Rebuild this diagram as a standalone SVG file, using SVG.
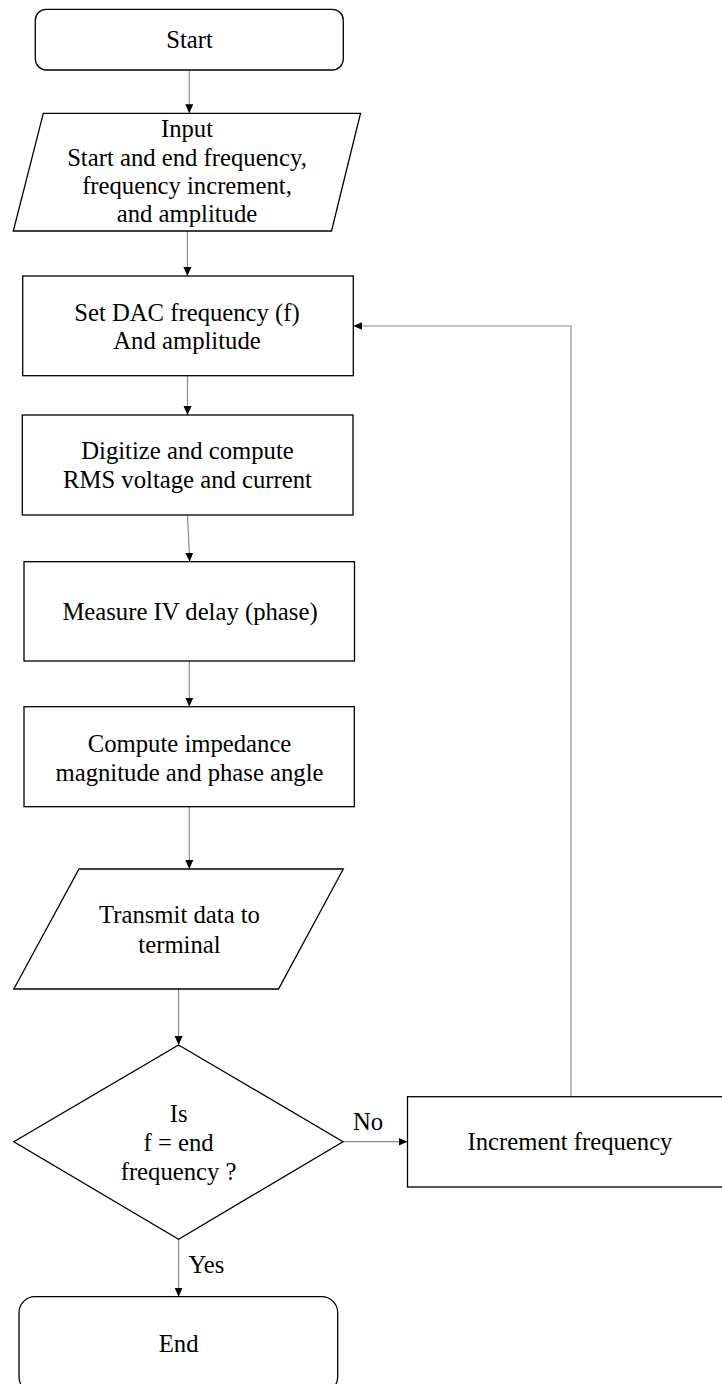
<svg xmlns="http://www.w3.org/2000/svg" width="722" height="1384" viewBox="0 0 722 1384">
  <defs>
    <marker id="arrow" markerUnits="userSpaceOnUse" markerWidth="10" markerHeight="10" viewBox="0 0 10 10" refX="9" refY="5" orient="auto">
      <path d="M0,1 L9,5 L0,9 Z" fill="#000"/>
    </marker>
    <style>
      .node { fill: #fff; stroke: #000; stroke-width: 1.3; }
      .edge { fill: none; stroke: #8a8a8a; stroke-width: 1.2; marker-end: url(#arrow); }
      .t { font-family: "Liberation Serif", "Times New Roman", serif; font-size: 24.7px; fill: #000; text-anchor: middle; }
    </style>
  </defs>
  <rect width="722" height="1384" fill="#fff"/>

  <g id="connectors">
    <path class="edge" d="M189.3,70 L189.3,113.3"/>
    <path class="edge" d="M187.4,231 L187.4,276"/>
    <path class="edge" d="M187.5,375.7 L187.5,415"/>
    <path class="edge" d="M187.5,515 L189.7,561.7"/>
    <path class="edge" d="M189.3,661 L189.3,706.7"/>
    <path class="edge" d="M189.3,806.7 L189.3,869"/>
    <path class="edge" d="M178.6,989 L178.6,1045"/>
    <path class="edge" d="M343,1141.7 L407.5,1141.7"/>
    <path class="edge" d="M571,1096.7 L571,326 L353.3,326"/>
    <path class="edge" d="M178.6,1239.3 L178.6,1296.7"/>
    <text class="t" x="368" y="1130">No</text>
    <text class="t" x="206.4" y="1273.3">Yes</text>
  </g>

  <g id="start">
    <rect class="node" x="35.3" y="9.3" width="308" height="60.7" rx="11"/>
    <text class="t" x="189.5" y="48.3">Start</text>
  </g>

  <g id="input">
    <polygon class="node" points="43.3,113.3 360.5,113.3 331.5,231 13.3,231"/>
    <text class="t" x="187" y="136.7">Input</text>
    <text class="t" x="187" y="165.7">Start and end frequency,</text>
    <text class="t" x="187" y="193.5">frequency increment,</text>
    <text class="t" x="187" y="221.7">and amplitude</text>
  </g>

  <g id="set-dac">
    <rect class="node" x="22.7" y="276" width="330.6" height="99.7"/>
    <text class="t" x="187" y="320.7">Set DAC frequency (f)</text>
    <text class="t" x="187" y="348.5">And amplitude</text>
  </g>

  <g id="digitize">
    <rect class="node" x="22.3" y="415" width="330.7" height="100"/>
    <text class="t" x="187.5" y="459">Digitize and compute</text>
    <text class="t" x="187.5" y="487.5">RMS voltage and current</text>
  </g>

  <g id="measure">
    <rect class="node" x="24" y="561.7" width="330.5" height="99.3"/>
    <text class="t" x="190" y="620">Measure IV delay (phase)</text>
  </g>

  <g id="compute">
    <rect class="node" x="24" y="706.7" width="330.3" height="100"/>
    <text class="t" x="189.5" y="751.7">Compute impedance</text>
    <text class="t" x="189.5" y="780.7">magnitude and phase angle</text>
  </g>

  <g id="transmit">
    <polygon class="node" points="79,869 343.3,869 278.5,989 13.8,989"/>
    <text class="t" x="179.5" y="923.3">Transmit data to</text>
    <text class="t" x="179.5" y="952.7">terminal</text>
  </g>

  <g id="decision">
    <polygon class="node" points="178.6,1045 343,1141.7 178.6,1239.3 13.8,1141.7"/>
    <text class="t" x="178.6" y="1121.7">Is</text>
    <text class="t" x="178.6" y="1150.8">f = end</text>
    <text class="t" x="178.6" y="1180">frequency ?</text>
  </g>

  <g id="increment">
    <rect class="node" x="407.5" y="1096.7" width="330" height="90.3"/>
    <text class="t" x="570" y="1150">Increment frequency</text>
  </g>

  <g id="end">
    <rect class="node" x="19" y="1296.7" width="318.7" height="96" rx="16"/>
    <text class="t" x="178.6" y="1351.7">End</text>
  </g>
</svg>
